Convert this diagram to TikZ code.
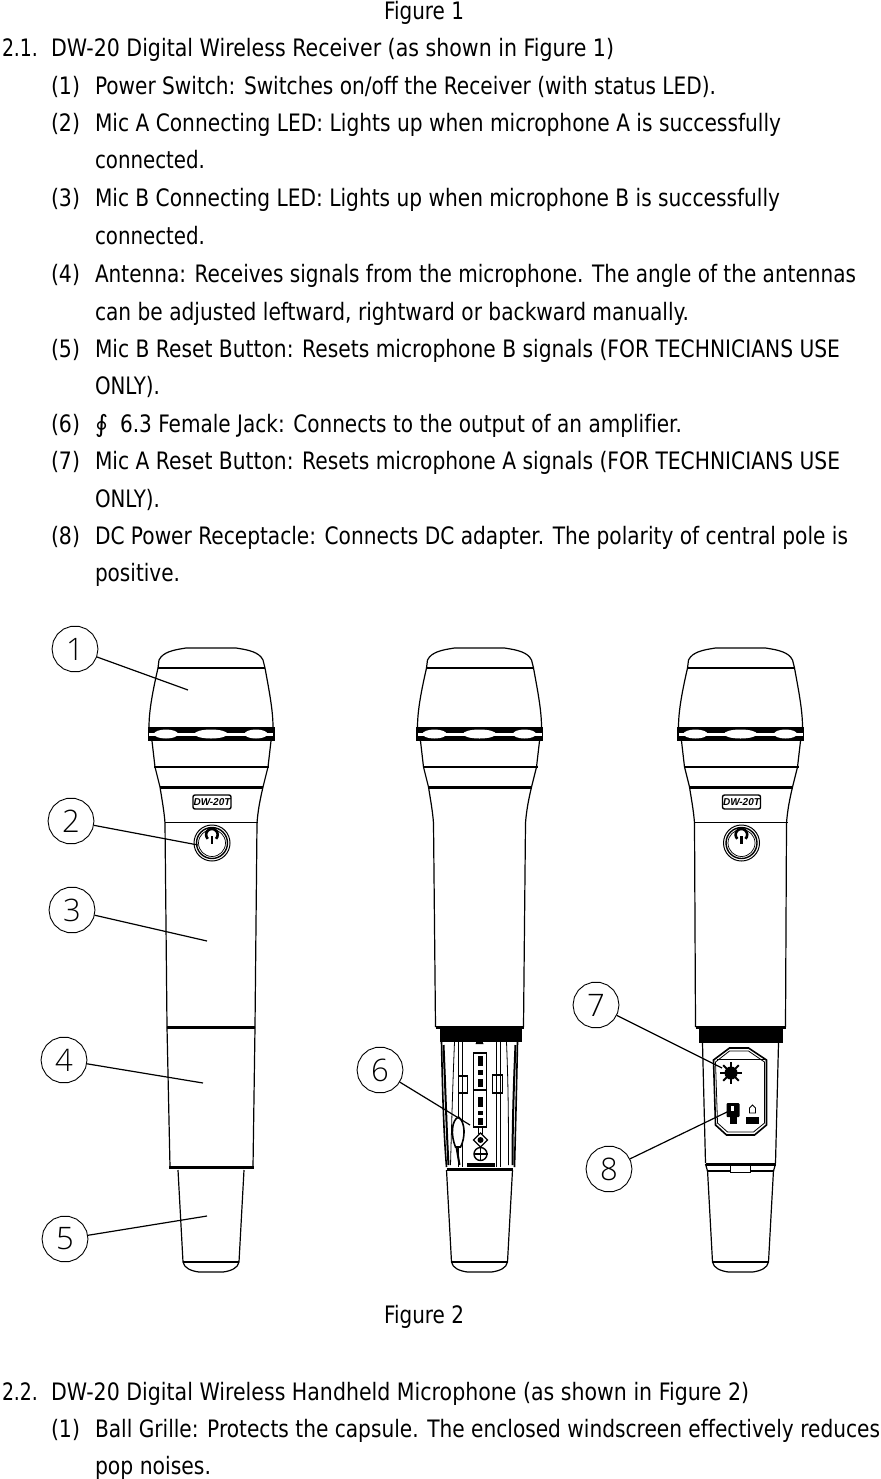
\documentclass[tikz,border=0pt]{standalone}
\usepackage{graphicx}
\usepackage{fontspec}
\usetikzlibrary{shapes.geometric}
\setmainfont[Ligatures=NoCommon]{DejaVu Sans}
\newfontfamily\digitf{Open Sans Light}
\newfontfamily\labf{Liberation Sans}
\tikzset{
  txt/.style={anchor=base west,inner sep=0pt,outer sep=0pt,font=\fontsize{24}{24}\selectfont},
  callout/.style={regular polygon,regular polygon sides=18,draw=black,line width=.9pt,fill=white,minimum size=46pt,inner sep=0pt,font=\digitf\fontsize{31}{31}\selectfont},
  leader/.style={line width=1.2pt},
  outl/.style={line width=1.2pt,line join=round},
  thinl/.style={line width=.8pt},
  heavy/.style={line width=3pt},
  micbadge/.style={draw=black,line width=1.4pt,rounded corners=2pt,minimum width=38pt,minimum height=14pt,inner sep=0pt,font=\labf\bfseries\itshape\fontsize{10}{10}\selectfont},
}
\newcommand\tl[5]{\node[txt] (#1) at (#2,#3) {\resizebox{\dimexpr#4pt-#2pt\relax}{\height}{#5}};}
\newcommand\mhead{%
  \draw[outl] (-46,823) .. controls (-47,810) and (-49,800) .. (-51,787) -- (-56,767) -- (-59,741);
  \draw[outl] (46,823) .. controls (47,810) and (49,800) .. (52,787) -- (57,767) -- (60,741);
  \draw[outl] (-62,727) .. controls (-62,710) and (-58,690) .. (-53,668) -- (-52,660) .. controls (-48,652) and (-38,650) .. (-25,648) -- (25,648) .. controls (38,650) and (48,652) .. (52,660) -- (54,668) .. controls (58,690) and (62,710) .. (62,727);
  \draw[line width=1.6pt] (-53,668) -- (54,668);
  \fill[black] (-63.5,727) rectangle (63.5,741);
  \fill[white] (-62,732.5) rectangle (62,735.5);
  \fill[white] (-45,734) ellipse (12 and 4.5);
  \fill[white] (0,734) ellipse (16.5 and 4.5);
  \fill[white] (45,734) ellipse (11.5 and 4.5);
  \draw[line width=2pt] (-57,767) -- (58,767);
  \draw[heavy] (-51,787) -- (52,787);
}
\newcommand\mbody[1]{% body bottom half-width
  \draw[outl] (-46,823) -- (-#1,1027);
  \draw[outl] (46,823) -- (#1,1027);
  \draw[heavy] (-#1,1027) -- (#1,1027);
}
\newcommand\mhandle{%
  \draw[outl] (-33,1170) -- (-28,1262) .. controls (-27,1268) and (-20,1271) .. (-12,1272) -- (12,1272) .. controls (20,1271) and (27,1268) .. (28,1262) -- (33,1170);
  \draw[line width=1.6pt] (-28,1262) -- (28,1262);
}
\newcommand\mpower{%
  \draw[thinl] (0,822.5) ++(-46,0) -- ++(93,0);
  \draw[line width=1pt] (1,843) circle (18);
  \draw[line width=1.4pt] (1,843) circle (15.5);
  \draw[line width=.7pt] (1,843) circle (13.5);
  \draw[line width=2.6pt] (5,838.8) arc[start angle=45,end angle=-225,radius=5.8];
  \draw[line width=2.6pt] (1,836) -- (1,844);
}
\begin{document}
\begin{tikzpicture}[x=1pt,y=-1pt]
\useasboundingbox (0,0) rectangle (880,1479);
\fill[white] (0,0) rectangle (880,1479);
% text
\tl{f1}{384}{20}{464}{Figure 1}
\tl{n21}{2}{57}{38}{2.1.}
\tl{t21}{51}{57}{614}{DW-20 Digital Wireless Receiver (as shown in Figure 1)}
\tl{p1}{51}{95}{80}{(1)}
\tl{a1}{95}{95}{716}{Power Switch: Switches on/off the Receiver (with status LED).}
\tl{p2}{51}{132}{80}{(2)}
\tl{a2}{95}{132}{781}{Mic A Connecting LED: Lights up when microphone A is successfully}
\tl{a2b}{95}{169}{205}{connected.}
\tl{p3}{51}{207}{80}{(3)}
\tl{a3}{95}{207}{780}{Mic B Connecting LED: Lights up when microphone B is successfully}
\tl{a3b}{95}{244}{205}{connected.}
\tl{p4}{51}{282}{80}{(4)}
\tl{a4}{95}{282}{856}{Antenna: Receives signals from the microphone. The angle of the antennas}
\tl{a4b}{95}{320}{689}{can be adjusted leftward, rightward or backward manually.}
\tl{p5}{51}{357}{80}{(5)}
\tl{a5}{95}{357}{840}{Mic B Reset Button: Resets microphone B signals (FOR TECHNICIANS USE}
\tl{a5b}{95}{394}{160}{ONLY).}
\tl{p6}{51}{432}{80}{(6)}
\tl{phi}{95}{432}{108}{∮}
\tl{a6}{120}{432}{682}{6.3 Female Jack: Connects to the output of an amplifier.}
\tl{p7}{51}{469}{80}{(7)}
\tl{a7}{95}{469}{840}{Mic A Reset Button: Resets microphone A signals (FOR TECHNICIANS USE}
\tl{a7b}{95}{507}{160}{ONLY).}
\tl{p8}{51}{544}{80}{(8)}
\tl{a8}{95}{544}{848}{DC Power Receptacle: Connects DC adapter. The polarity of central pole is}
\tl{a8b}{95}{581}{180}{positive.}
\tl{f2}{384}{1323}{464}{Figure 2}
\tl{n22}{2}{1400}{38}{2.2.}
\tl{t22}{51}{1400}{749}{DW-20 Digital Wireless Handheld Microphone (as shown in Figure 2)}
\tl{p9}{51}{1437}{80}{(1)}
\tl{b1}{95}{1437}{880}{Ball Grille: Protects the capsule. The enclosed windscreen effectively reduces}
\tl{b1b}{95}{1474}{211}{pop noises.}
% mic 1
\begin{scope}[shift={(211,0)}]
  \mhead \mbody{44} \mpower
  \node[micbadge] (badge1) at (1,802) {DW-20T};
  \draw[outl] (-44,1027) -- (-41,1167);
  \draw[outl] (44,1027) -- (42,1167);
  \draw[heavy] (-42,1167) -- (43,1167);
  \mhandle
\end{scope}
% mic 2
\begin{scope}[shift={(479.5,0)}]
  \mhead \mbody{44}
  \fill[black] (-40,1029) rectangle (42,1042);
  \draw[line width=1.6pt] (-38,1042) .. controls (-37,1090) and (-36,1130) .. (-33,1167);
  \draw[line width=1.6pt] (38,1042) .. controls (37,1090) and (36,1130) .. (35,1167);
  \draw[line width=2pt] (-36,1045) .. controls (-34,1090) and (-33,1130) .. (-31,1165);
  \draw[line width=2pt] (36,1045) .. controls (34,1090) and (33,1130) .. (33,1165);
  \draw[thinl] (-25,1042) .. controls (-27,1090) and (-28,1130) .. (-29,1165);
  \draw[thinl] (27,1042) .. controls (29,1090) and (29,1130) .. (29,1165);
  \draw[thinl] (-21,1042) -- (-21,1167);
  \draw[thinl] (-17,1042) -- (-17,1167);
  \draw[thinl] (17,1042) -- (17,1167);
  \draw[thinl] (21,1042) -- (21,1167);
  \fill[black] (-4,1044) arc[start angle=180,end angle=360,radius=4] -- cycle;
  \draw[line width=1.2pt] (-6,1053) rectangle (7,1127);
  \draw[line width=1.2pt] (-6,1090) -- (7,1090);
  \foreach \yy/\hh in {1056/10,1070/5,1079/8,1097/10,1111/4,1118/7}{
    \fill[black] (-2,\yy) rectangle (3,\yy+\hh);
  }
  \draw[line width=1pt] (-1,1127) rectangle (3,1133);
  \draw[line width=1.6pt] (-21,1076) rectangle (-12,1093);
  \draw[line width=1.6pt] (13,1075) rectangle (23,1093);
  \draw[line width=1.6pt,fill=white] (-21,1117) .. controls (-28,1120) and (-29,1135) .. (-24,1147) -- (-19,1147) .. controls (-14,1138) and (-14,1122) .. (-21,1117) -- cycle;
  \draw[line width=2pt] (-23,1147) -- (-20,1165);
  \draw[line width=1.2pt] (1,1133) -- (8,1140) -- (1,1147) -- (-6,1140) -- cycle;
  \fill[black] (1,1140) circle (3);
  \draw[line width=1.4pt] (1,1154) circle (6.5);
  \draw[line width=1.2pt] (-6,1154) -- (8,1154) (1,1147) -- (1,1161);
  \fill[black] (-13,1163) rectangle (15,1167);
  \draw[heavy] (-33,1169) -- (33,1169);
  \mhandle
\end{scope}
% mic 3
\begin{scope}[shift={(740.5,0)}]
  \mhead \mbody{45} \mpower
  \node[micbadge] (badge3) at (1,802) {DW-20T};
  \fill[black] (-42,1029) rectangle (42,1043);
  \draw[outl] (-38,1043) -- (-35,1163);
  \draw[outl] (38,1043) -- (35,1163);
  \draw[heavy] (-35,1164) -- (35,1164);
  \draw[outl] (-35,1164) -- (-33,1171);
  \draw[outl] (35,1164) -- (33,1171);
  \draw[line width=1.6pt] (-33,1171) -- (33,1171);
  \draw[thinl,fill=white] (-10,1165) rectangle (10,1172);
  \draw[line width=1.6pt] (-27,1060) -- (-11,1048) -- (8,1048) -- (26,1060) -- (26,1125) -- (14,1135) -- (-14,1135) -- (-25,1125) -- cycle;
  \draw[thinl] (-25,1062) -- (-11,1051) -- (8,1051) -- (24,1062) -- (24,1123) -- (13,1132) -- (-13,1132) -- (-23,1123) -- cycle;
  \draw[thinl] (-24,1059) -- (25,1059);
  \fill[black] (-9.5,1073) circle (6.5);
  \foreach \aa in {0,45,...,315}{
    \draw[line width=2pt] (-9.5,1073) -- ++(\aa:11);
  }
  \fill[black,rounded corners=1pt] (-14,1103) rectangle (-1,1117);
  \fill[white] (-10,1106) rectangle (-7,1111);
  \fill[black] (-11,1117) rectangle (-4,1124);
  \draw[thinl] (9,1113) -- (9,1108) -- (12,1105) -- (15,1108) -- (15,1113) -- cycle;
  \fill[black] (5.5,1117) rectangle (18.5,1124);
  \mhandle
\end{scope}
% callouts
\node[callout] (c1) at (75,649) {1};
\node[callout] (c2) at (71,821) {2};
\node[callout] (c3) at (72,910) {3};
\node[callout] (c4) at (64,1060) {4};
\node[callout] (c5) at (65,1239) {5};
\node[callout] (c6) at (380,1070) {6};
\node[callout] (c7) at (596,1005) {7};
\node[callout] (c8) at (609,1169) {8};
\coordinate (e1) at (188,690);
\coordinate (e2) at (198,845);
\coordinate (e3) at (207,941);
\coordinate (e4) at (203,1083);
\coordinate (e5) at (207,1216);
\coordinate (e6) at (470,1125);
\coordinate (e7) at (722,1068);
\coordinate (e8) at (727,1112);
\foreach \n in {1,...,8}{ \draw[leader] (c\n) -- (e\n); }
\end{tikzpicture}
\end{document}
